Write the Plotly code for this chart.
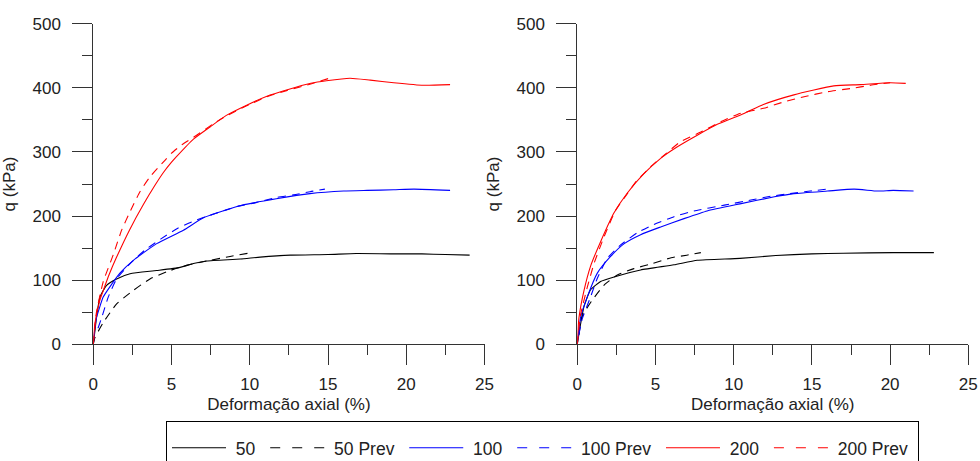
import plotly.graph_objects as go

# ---------------- data (left panel) ----------------
L50_x = [0, 0.1, 0.22, 0.43, 0.85, 1.49, 2.35, 4.05, 5.54, 6.4, 7.25, 9.4, 10.66, 12.6, 15.0, 16.8, 19.0, 21.0, 22.5, 24.05]
L50_y = [0, 20, 45, 74, 92, 102, 110, 115, 120, 126, 130, 133, 136, 139, 140, 141.5, 141, 141, 140, 139]

L50P_x = [0, 0.1, 0.64, 1.49, 2.56, 3.62, 4.69, 5.76, 7.46, 8.74, 9.9]
L50P_y = [0, 10, 34, 63, 84, 102, 113, 122, 131, 137, 142]

L100_x = [0, 0.1, 0.21, 0.64, 1.07, 1.7, 2.56, 4.05, 5.76, 7.1, 9.5, 11.7, 13.85, 16.0, 17.5, 19.2, 20.5, 22.8]
L100_y = [0, 25, 42, 74, 90, 111, 131, 157, 178, 198, 217, 227, 235, 239, 240, 241, 242, 240]

L100P_x = [0.3, 0.53, 0.96, 1.49, 2.4, 3.3, 4.3, 5.4, 6.5, 7.8, 9.2, 10.4, 11.7, 12.8, 13.85, 14.8]
L100P_y = [25, 41, 74, 102, 127, 147, 164, 181, 193, 204, 215, 221, 229, 233, 238, 242]

L200_x = [0, 0.1, 0.42, 0.64, 1.0, 1.49, 2.35, 3.2, 3.94, 4.48, 5.0, 5.33, 6.4, 7.46, 8.5, 9.8, 11.1, 12.4, 13.9, 14.9, 16.4, 17.7, 19.2, 21.1, 22.8]
L200_y = [0, 32, 69, 84, 108, 136, 180, 218, 248, 268, 284, 293, 320, 339, 357, 373, 387, 397, 407, 411, 415, 412, 408, 404, 405]

L200P_x = [0, 0.2, 0.64, 1.28, 1.81, 2.35, 2.98, 3.62, 4.58, 5.0, 5.65, 6.6, 7.67, 8.5, 9.8, 11.1, 12.4, 13.9, 15.1]
L200P_y = [0, 50, 98, 140, 178, 207, 238, 261, 287, 298, 311, 326, 344, 356, 372, 386, 396, 406, 415]

# ---------------- data (right panel) ----------------
R50_x = [0, 0.22, 0.43, 0.85, 1.49, 2.35, 4.05, 6.18, 7.67, 10.4, 12.7, 15.0, 17.0, 20.2, 22.8]
R50_y = [0, 33, 59, 85, 98, 105, 116, 124, 131, 134, 138.5, 141, 142, 143, 143]

R50P_x = [0.1, 0.22, 0.5, 0.96, 1.7, 2.56, 3.62, 4.8, 6.0, 7.0, 7.9]
R50P_y = [15, 38, 52, 69, 92, 108, 118, 126, 135, 139, 143]

R100_x = [0, 0.22, 0.64, 1.28, 2.13, 3.0, 4.05, 5.33, 6.82, 8.3, 10.4, 12.6, 13.85, 16.0, 17.7, 19.2, 20.2, 21.5]
R100_y = [0, 43, 74, 111, 137, 157, 171, 183, 196, 208, 219, 230, 235, 239, 242, 239, 240, 239]

R100P_x = [0.1, 0.32, 0.85, 1.28, 1.92, 2.77, 3.84, 4.9, 6.18, 7.46, 9.4, 11.1, 12.4, 13.6, 14.9, 16.0]
R100P_y = [15, 40, 74, 103, 134, 155, 174, 187, 199, 208, 217, 225, 231, 235, 239, 242]

R200_x = [0, 0.1, 0.43, 0.85, 1.49, 2.35, 3.2, 4.26, 5.33, 6.4, 7.67, 8.95, 10.66, 11.9, 13.85, 16.4, 18.1, 20.0, 21.0]
R200_y = [0, 40, 84, 122, 160, 205, 236, 266, 290, 308, 326, 343, 360, 374, 389, 403, 405, 408, 407]

R200P_x = [0, 0.2, 0.64, 1.07, 1.7, 2.45, 3.2, 3.73, 4.69, 5.65, 6.6, 7.9, 9.16, 10.4, 11.9, 13.2, 14.5, 16.0, 17.5, 18.75, 20.0]
R200P_y = [0, 45, 89, 126, 167, 209, 235, 253, 277, 297, 316, 331, 347, 360, 368, 378, 386, 394, 399, 404, 408]

names = ["50", "50 Prev", "100", "100 Prev", "200", "200 Prev"]
colors = ["#000000", "#000000", "#0000FF", "#0000FF", "#FF0000", "#FF0000"]
is_prev = [False, True, False, True, False, True]

left = [(L50_x, L50_y), (L50P_x, L50P_y), (L100_x, L100_y), (L100P_x, L100P_y), (L200_x, L200_y), (L200P_x, L200P_y)]
right = [(R50_x, R50_y), (R50P_x, R50P_y), (R100_x, R100_y), (R100P_x, R100P_y), (R200_x, R200_y), (R200P_x, R200P_y)]

fig = go.Figure()
for panel, (xa, ya) in ((left, ("x", "y")), (right, ("x2", "y2"))):
    for i, (x, y) in enumerate(panel):
        fig.add_trace(go.Scatter(x=x, y=y, mode="lines", name=names[i],
                                 line=dict(color=colors[i], width=1.1,
                                           dash="8px,6px" if is_prev[i] else "solid",
                                           shape="spline", smoothing=0.5),
                                 xaxis=xa, yaxis=ya, showlegend=False))
# legend entries (same series styles, legend dash spacing as in reference)
NB = "\u00a0"
for i in range(6):
    fig.add_trace(go.Scatter(x=[None], y=[None], mode="lines", name=NB + names[i] + NB,
                             line=dict(color=colors[i], width=1.1,
                                       dash="10px,12px" if is_prev[i] else "solid"),
                             xaxis="x", yaxis="y", showlegend=True))

axcol = "#333333"
FONT = "Liberation Sans, Arial, sans-serif"
tickfont = dict(family=FONT, size=17, color="#222222")
titlefont = dict(family=FONT, size=17, color="#222222")

def xax(domain, anchor):
    return dict(domain=domain, anchor=anchor, range=[0, 25], dtick=5, tick0=0,
                showline=True, linecolor=axcol, linewidth=1, ticks="outside", ticklen=20,
                tickcolor=axcol, tickwidth=1, showgrid=False, zeroline=False,
                tickfont=tickfont, ticklabelstandoff=4, ticklabeloverflow="allow",
                minor=dict(dtick=2.5, ticklen=10, ticks="outside", tickcolor=axcol, tickwidth=1, showgrid=False),
                title=dict(text="Deformação axial (%)", font=titlefont, standoff=5))

def yax(domain, anchor):
    return dict(domain=domain, anchor=anchor, range=[0, 500], dtick=100, tick0=0,
                showline=True, linecolor=axcol, linewidth=1, ticks="outside", ticklen=20,
                tickcolor=axcol, tickwidth=1, showgrid=False, zeroline=False,
                tickfont=tickfont, ticklabelstandoff=8, ticklabeloverflow="allow",
                minor=dict(dtick=50, ticklen=10, ticks="outside", tickcolor=axcol, tickwidth=1, showgrid=False),
                title=dict(text="q (kPa)", font=titlefont, standoff=12))

W, H = 980, 461
ydom = [1 - 344.3 / H, 1 - 23.7 / H]
fig.update_layout(
    width=W, height=H,
    margin=dict(l=0, r=0, t=0, b=0, autoexpand=False),
    paper_bgcolor="white", plot_bgcolor="white",
    xaxis=xax([93.3 / W, 484.5 / W], "y"),
    yaxis=yax(ydom, "x"),
    xaxis2=xax([577.3 / W, 968.3 / W], "y2"),
    yaxis2=yax(ydom, "x2"),
    legend=dict(orientation="h", x=166 / W, xanchor="left", y=1 - 421 / H, yanchor="top",
                bordercolor="#000000", borderwidth=1, bgcolor="white",
                font=dict(family=FONT, size=17.5, color="#222222"),
                itemwidth=54,
                title=dict(text=" ", side="top", font=dict(size=6))),
    showlegend=True,
)

fig.write_html("out.html",
               config={"displayModeBar": False},
               post_script="document.body.style.margin='0';document.body.style.overflow='hidden';")
